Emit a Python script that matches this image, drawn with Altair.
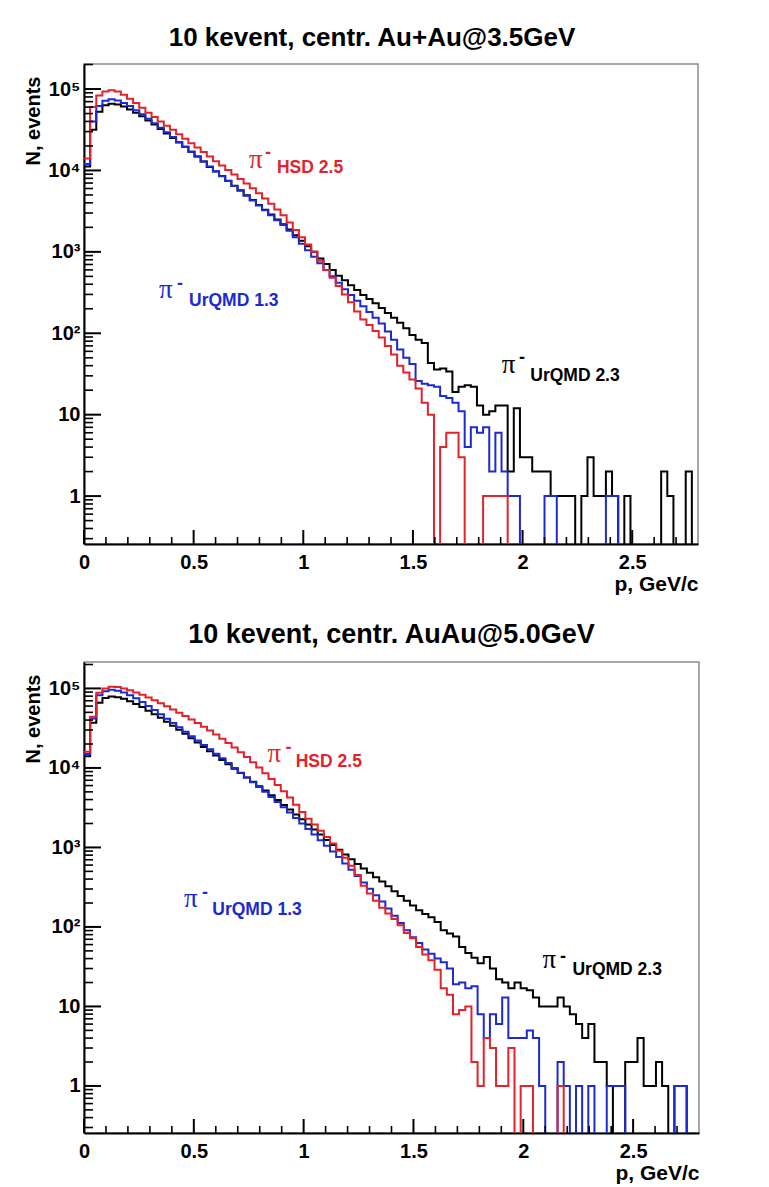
import altair as alt
import pandas as pd

# ---------------- data (counts per bin, 100 bins of 0.028 GeV/c from 0 to 2.8) -------------
BIN_WIDTH = 0.028
P_MAX = 2.8

top_black = [
    11200, 31600, 52500, 63100, 66100, 64600, 61000, 56200, 51300, 46200,
    41200, 36700, 32400, 28500, 25100, 22100, 19500, 17000, 14800, 12900,
    11000, 9700, 8550, 7450, 6500, 5700, 4950, 4330, 3770, 3290,
    2870, 2500, 2180, 1880, 1600, 1370, 1170, 1000, 830, 710,
    600, 510, 447, 389, 339, 295, 263, 234, 204, 178,
    155, 135, 115, 95, 83, 76, 43, 36, 37, 34,
    19, 22, 23, 22, 13, 10, 11, 13, 13, 2,
    12, 3, 3, 2, 2, 2, 1, 1, 1, 1,
    0, 1, 3, 1, 1, 2, 1, 0, 1, 0,
    0, 0, 0, 0, 2, 1, 0, 0, 2, 0,
]
top_blue = [
    12000, 40000, 62000, 72000, 75000, 72400, 67600, 61700, 55000, 49000,
    43200, 38000, 33500, 29500, 25700, 22400, 19500, 17000, 14800, 12900,
    11200, 9800, 8500, 7400, 6460, 5620, 4900, 4270, 3720, 3240,
    2820, 2450, 2140, 1820, 1510, 1260, 1050, 870, 725, 600,
    500, 417, 347, 295, 251, 214, 182, 155, 132, 105,
    83, 63, 50, 42, 26, 24, 23, 22, 17, 16,
    14, 11, 4, 7, 6, 7, 2, 6, 2, 1,
    1, 0, 0, 0, 0, 1, 1, 0, 0, 0,
    0, 0, 0, 0, 0, 1, 1, 0, 0, 0,
    0, 0, 0, 0, 0, 0, 0, 0, 0, 0,
]
top_red = [
    14000, 60000, 83000, 93000, 96600, 93300, 85100, 75900, 67600, 58900,
    51300, 45200, 39800, 35500, 31600, 27900, 24500, 21600, 19100, 16800,
    14800, 13000, 11500, 10100, 8900, 7850, 6900, 6030, 5250, 4520,
    3890, 3310, 2820, 2290, 1860, 1510, 1230, 1000, 780, 600,
    480, 380, 300, 240, 185, 148, 126, 107, 89, 70,
    55, 40, 33, 27, 21, 14, 10, 0, 4, 6,
    6, 3, 0, 0, 0, 1, 1, 1, 1, 0,
    0, 0, 0, 0, 0, 0, 0, 0, 0, 0,
    0, 0, 0, 0, 0, 0, 0, 0, 0, 0,
    0, 0, 0, 0, 0, 0, 0, 0, 0, 0,
]

bot_black = [
    14000, 37000, 66000, 76000, 79400, 77600, 74100, 69200, 63800, 58200,
    52500, 47300, 42700, 38000, 33900, 30200, 26900, 23700, 20900, 18400,
    16200, 14300, 12600, 11100, 9770, 8610, 7590, 6680, 5890, 5190,
    4520, 3940, 3430, 2990, 2600, 2260, 1950, 1680, 1450, 1240,
    1070, 933, 813, 708, 617, 543, 479, 422, 372, 324,
    282, 245, 214, 186, 162, 145, 132, 115, 91, 83,
    76, 56, 47, 41, 35, 42, 30, 22, 20, 17,
    20, 17, 16, 13, 10, 10, 10, 13, 10, 8,
    6, 4, 6, 2, 2, 1, 0, 0, 2, 2,
    4, 1, 1, 2, 1, 0, 1, 1, 0, 0,
]
bot_blue = [
    15000, 42000, 82000, 92000, 96000, 93300, 89100, 82200, 75000, 67600,
    60300, 53700, 47300, 41700, 36700, 32400, 28500, 25100, 22100, 19500,
    17200, 15100, 13200, 11500, 10000, 8710, 7590, 6610, 5750, 5010,
    4320, 3720, 3200, 2750, 2340, 2000, 1700, 1450, 1230, 1050,
    890, 760, 630, 525, 436, 363, 302, 251, 209, 170,
    138, 112, 91, 74, 63, 52, 46, 40, 36, 30,
    19, 20, 17, 18, 8, 4, 8, 6, 13, 4,
    4, 4, 5, 4, 1, 0, 0, 2, 1, 0,
    1, 0, 1, 0, 0, 1, 1, 1, 0, 0,
    0, 0, 0, 0, 0, 0, 1, 1, 0, 0,
]
bot_red = [
    16000, 44000, 88000, 100000, 105000, 104000, 100000, 95000, 89000, 83000,
    77000, 71000, 65000, 59500, 54500, 49500, 45000, 40800, 36800, 33000,
    29500, 26300, 23300, 20600, 18100, 15800, 13700, 11800, 10100, 8600,
    7250, 6100, 5100, 4250, 3450, 2800, 2290, 1950, 1620, 1350,
    1120, 910, 740, 590, 450, 330, 263, 214, 174, 148,
    126, 105, 84, 72, 56, 45, 38, 29, 17, 14,
    8, 9, 10, 2, 1, 4, 3, 1, 1, 3,
    0, 1, 1, 0, 0, 0, 0, 1, 0, 0,
    0, 0, 0, 0, 0, 0, 0, 0, 0, 0,
    0, 0, 0, 0, 0, 0, 0, 0, 0, 0,
]

titles = ["10 kevent, centr. Au+Au@3.5GeV", "10 kevent, centr. AuAu@5.0GeV"]
model_labels = ["HSD 2.5", "UrQMD 1.3", "UrQMD 2.3"]

Y_MAJOR = [1, 10, 100, 1000, 10000, 100000]
Y_MINOR = [0.3, 0.4, 0.5, 0.6, 0.7, 0.8, 0.9,
           2, 3, 4, 5, 6, 7, 8, 9,
           20, 30, 40, 50, 60, 70, 80, 90,
           200, 300, 400, 500, 600, 700, 800, 900,
           2000, 3000, 4000, 5000, 6000, 7000, 8000, 9000,
           20000, 30000, 40000, 50000, 60000, 70000, 80000, 90000,
           200000]
X_MAJOR = [0, 0.5, 1, 1.5, 2, 2.5]
X_MINOR = [0.1, 0.2, 0.3, 0.4, 0.6, 0.7, 0.8, 0.9, 1.1, 1.2, 1.3, 1.4,
           1.6, 1.7, 1.8, 1.9, 2.1, 2.2, 2.3, 2.4, 2.6, 2.7]

# ---------------- styling ----------------
RED = "#e2232b"
BLUE = "#1c2ad0"
BLACK = "#000000"
FONT = "Liberation Sans"
SERIF = "Liberation Serif"

Y_LABELS = ("datum.value == 1 ? '1' : datum.value == 10 ? '10' : "
            "datum.value == 100 ? '10\u00b2' : datum.value == 1000 ? '10\u00b3' : "
            "datum.value == 10000 ? '10\u2074' : '10\u2075'")


def hist_frame(counts):
    edges = [round(i * BIN_WIDTH, 4) for i in range(len(counts) + 1)]
    vals = list(counts) + [counts[-1]]
    return pd.DataFrame({"p": edges, "n": vals})


def panel(title, series, ydom, W, H, ann, title_dx, title_size):
    xs = alt.Scale(domain=[0, P_MAX], nice=False, zero=False)
    ys = alt.Scale(type="log", domain=ydom, nice=False)

    x_axis = alt.Axis(
        values=X_MAJOR, format="~g", ticks=False, tickSize=0, grid=False,
        domainColor="black", domainWidth=2, labelFont=FONT, labelFontSize=20,
        labelFontWeight="bold", labelColor="black", labelPadding=8,
        labelFlush=False, labelOverlap=False,
        title="p, GeV/c", titleFont=FONT, titleFontSize=21, titleFontWeight="bold",
        titleColor="black", titleX=W, titleY=46, titleAlign="right",
        titleBaseline="alphabetic")
    y_axis = alt.Axis(
        values=Y_MAJOR, labelExpr=Y_LABELS, ticks=False, tickSize=0, grid=False,
        domainColor="black", domainWidth=2, labelFont=FONT, labelFontSize=20,
        labelFontWeight="bold", labelColor="black", labelPadding=4,
        labelFlush=False, labelOverlap=False,
        title="N, events", titleFont=FONT, titleFontSize=20, titleFontWeight="bold",
        titleColor="black", titleAngle=270, titleX=-45, titleY=12,
        titleAlign="right", titleBaseline="alphabetic")

    def X(field):
        return alt.X(field, type="quantitative", scale=xs, axis=x_axis)

    def Y(field):
        return alt.Y(field, type="quantitative", scale=ys, axis=y_axis)

    layers = []
    for counts, color in series:
        layers.append(
            alt.Chart(hist_frame(counts))
            .transform_calculate(n_plot="max(datum.n, 0.01)")
            .mark_line(interpolate="step-after", color=color, strokeWidth=2, clip=True)
            .encode(x=X("p"), y=Y("n_plot"))
        )

    # inward ticks (ROOT style)
    layers.append(
        alt.Chart(pd.DataFrame({"v": Y_MAJOR})).mark_rule(color="black", strokeWidth=2)
        .encode(y=Y("v"), x=alt.value(0), x2=alt.value(17)))
    layers.append(
        alt.Chart(pd.DataFrame({"v": Y_MINOR})).mark_rule(color="black", strokeWidth=1.6)
        .encode(y=Y("v"), x=alt.value(0), x2=alt.value(9)))
    layers.append(
        alt.Chart(pd.DataFrame({"v": X_MAJOR})).mark_rule(color="black", strokeWidth=2)
        .encode(x=X("v"), y=alt.value(H), y2=alt.value(H - 14)))
    layers.append(
        alt.Chart(pd.DataFrame({"v": X_MINOR})).mark_rule(color="black", strokeWidth=1.6)
        .encode(x=X("v"), y=alt.value(H), y2=alt.value(H - 7)))

    # annotations: pi, superscript minus, model label
    adf = pd.DataFrame(ann)
    layers.append(
        alt.Chart(adf).mark_text(font=SERIF, fontSize=27, align="left",
                                 baseline="alphabetic", text="\u03c0")
        .encode(x=X("pix"), y=Y("piy"), color=alt.Color("c:N", scale=None)))
    layers.append(
        alt.Chart(adf).mark_text(font=FONT, fontSize=18, fontWeight="bold",
                                 align="center", baseline="middle", text="-")
        .encode(x=X("mx"), y=Y("my"), color=alt.Color("c:N", scale=None)))
    layers.append(
        alt.Chart(adf).mark_text(font=FONT, fontSize=17.5, fontWeight="bold",
                                 align="left", baseline="alphabetic")
        .encode(x=X("lx"), y=Y("ly"), text="t:N", color=alt.Color("c:N", scale=None)))

    return alt.layer(*layers).properties(
        width=W, height=H,
        title=alt.TitleParams(title, font=FONT, fontSize=title_size, fontWeight="bold",
                              color="black", anchor="middle", offset=-8,
                              baseline="alphabetic", dx=title_dx),
    )


top_ann = {
    "t": model_labels, "c": [RED, BLUE, BLACK],
    "pix": [0.752, 0.342, 1.905], "piy": [10600, 269, 32.6],
    "mx": [0.839, 0.438, 1.997], "my": [16600, 400, 49],
    "lx": [0.880, 0.479, 2.035], "ly": [9190, 214, 25.8],
}
bot_ann = {
    "t": model_labels, "c": [RED, BLUE, BLACK],
    "pix": [0.835, 0.455, 2.087], "piy": [12000, 180, 30.2],
    "mx": [0.931, 0.551, 2.181], "my": [17800, 265, 42.3],
    "lx": [0.964, 0.584, 2.224], "ly": [10400, 141.6, 24.9],
}

top = panel(titles[0], [(top_black, BLACK), (top_blue, BLUE), (top_red, RED)],
            [0.258, 203000], 614, 480, top_ann, -19, 26)
bottom = panel(titles[1], [(bot_black, BLACK), (bot_blue, BLUE), (bot_red, RED)],
               [0.256, 215000], 615, 471, bot_ann, 0, 27)

chart = alt.vconcat(top, bottom, spacing=25).properties(
    padding={"left": 14, "top": 15, "right": 5, "bottom": 5},
    background="white",
).configure_view(stroke="#8a8a8a", strokeWidth=1.5)

chart.save("out.html", embed_options={"renderer": "svg", "actions": False})
